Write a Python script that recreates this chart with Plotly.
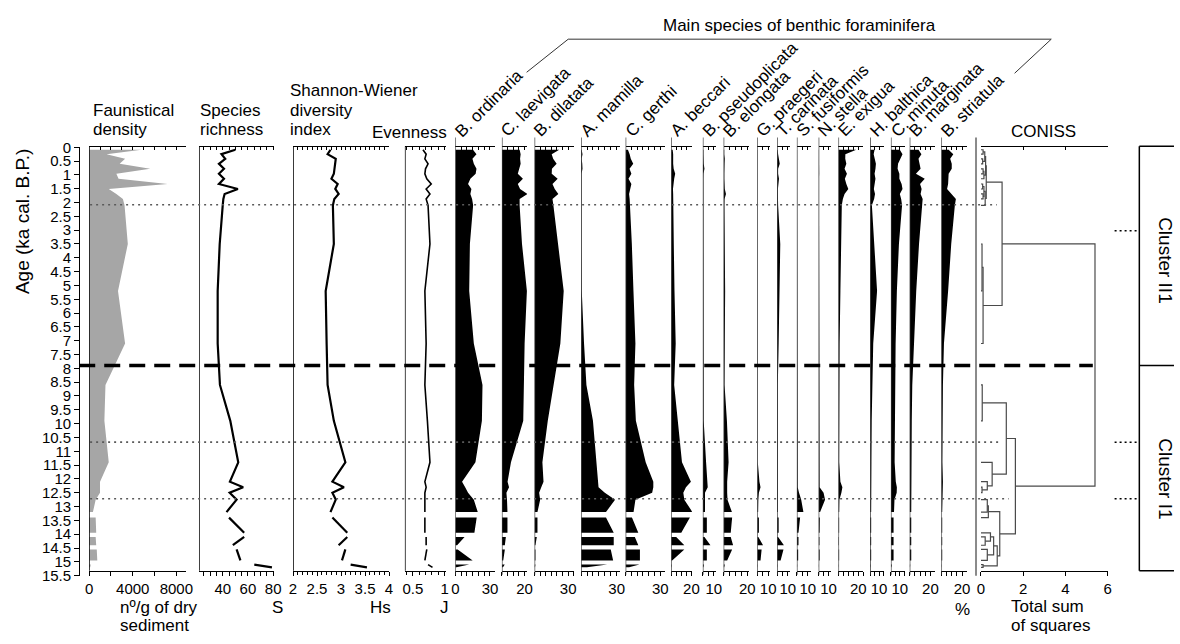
import plotly.graph_objects as go

W, H = 1180, 644
FONT = "Liberation Sans, Arial, sans-serif"

# ------------------------------------------------------------------ data
AGES = [0.09, 0.25, 0.42, 0.6, 0.78, 0.96, 1.14, 1.33, 1.51, 1.69, 1.87, 2.1,
        3.5, 5.2, 7.1, 8.6, 9.9, 11.4, 12.1, 12.3, 12.5, 12.75, 13.2,
        13.4, 13.95, 14.1, 14.4, 14.55, 14.95, 15.1, 15.2]
GAP_AFTER = [13.2, 13.95, 14.4, 14.95]

FAUNA = [4800, 1600, 3300, 2800, 5600, 2500, 2700, 7200, 1800, 2500, 3100, 3250,
         3550, 2650, 3300, 1500, 1400, 1800, 1000, 1000, 1000, 600, 350,
         600, 650, 600, 650, 700, 750, 150, 100]
RICHNESS = [50, 39, 42, 37, 41, 37, 41, 37, 52, 41.5, 40.5, 40,
            37.6, 36, 36, 37.8, 46, 52.3, 45.7, 56.2, 45.5, 51, 43,
            45, 57, 57, 48, 51, 54, 65, 79]
SHANNON = [2.78, 2.72, 2.89, 2.88, 2.87, 2.85, 2.80, 2.93, 2.88, 2.95, 2.86, 2.83,
           2.85, 2.68, 2.70, 2.72, 2.85, 3.09, 2.82, 3.06, 2.82, 2.89, 2.78,
           2.82, 3.13, 3.13, 2.95, 3.09, 3.02, 3.20, 3.54]
EVENNESS = [0.66, 0.71, 0.69, 0.74, 0.70, 0.69, 0.72, 0.79, 0.71, 0.77, 0.71, 0.74,
            0.77, 0.69, 0.71, 0.69, 0.73, 0.77, 0.69, 0.71, 0.69, 0.69, 0.69,
            0.69, 0.69, 0.71, 0.71, 0.72, 0.69, 0.74, 0.81]

B_ORDINARIA = [15.3, 18.3, 14.8, 16, 18.3, 17.6, 13, 11, 13.9, 13, 14.5, 15.4,
               12.6, 12, 16, 23.5, 23, 17.4, 5.8, 8.5, 11, 16, 19.4,
               18.5, 16.5, 8, 1.5, 2, 15, 12, 1]
C_LAEVIGATA = [15.6, 16.5, 16, 16.5, 15, 14, 18.5, 14, 16, 22.5, 15.6, 15.6,
               17.7, 22, 20, 19.4, 18.8, 8, 5, 6.3, 4, 4.5, 4.9,
               4.9, 4.9, 3.5, 2.6, 2.6, 1.2, 2.5, 1]
B_DILATATA = [22, 15.3, 16.6, 19.7, 15.5, 15.3, 20.6, 16, 18, 21.2, 16, 16.8,
              21.2, 26, 23, 16.8, 11.8, 7, 8, 6, 4.1, 5, 2.6,
              2.6, 2.6, 2, 0.8, 0.8, 0.8, 0.8, 0.4]
A_MAMILLA = [0.5, 1.2, 0.5, 1, 1.2, 0.4, 0.5, 0.3, 0.5, 0.3, 0.3, 0.4,
             0.4, 0.6, 2.5, 4.5, 10, 13, 14.5, 14.7, 20, 28.6, 21,
             21, 27.5, 27.5, 27.5, 25, 27, 22, 5]
C_GERTHI = [2, 3.5, 4.5, 6.6, 3.4, 5, 2.5, 5, 4, 3, 3.5, 3.8,
            5.4, 6.8, 8.5, 7.4, 8.9, 17.4, 24, 24, 23, 8.5, 6.9,
            5.5, 11, 8, 11, 12.4, 12.4, 12, 3]
A_BECCARI = [1.5, 2, 1.7, 2, 2.5, 4, 3, 2, 1.8, 2, 2, 2.2,
             2.6, 3.3, 4.5, 3, 6.5, 10.7, 19.5, 14.6, 12, 13, 21,
             18.5, 10, 5, 13, 13, 1, 0.5, 0.3]
B_PSEUDOPLICATA = [0.5, 0.5, 0.6, 0.8, 1.5, 0.6, 0.5, 0.5, 0.5, 0.5, 0.5, 0.5,
                   0.6, 0.6, 0.7, 0.7, 0.8, 3, 4.5, 4.5, 2, 2, 2,
                   3.7, 3.7, 1.5, 7, 3.7, 3.7, 1, 0.5]
B_ELONGATA = [0.5, 0.5, 1, 0.8, 1, 0.6, 0.6, 0.8, 1, 2, 0.8, 0.7,
              1, 1.3, 1, 0.8, 2.8, 4.2, 3, 2.8, 3, 3.3, 7,
              7.2, 6, 6, 8, 7.2, 3, 1, 0.5]
G_PRAEGERI = [0.2, 0.2, 0.2, 0.2, 0.2, 0.2, 0.2, 0.2, 0.2, 0.2, 0.2, 0.2,
              0.2, 0.2, 0.2, 0.2, 0.3, 0.5, 2, 3, 1.5, 1, 0.8,
              1.5, 1.5, 1, 5.3, 4, 3, 0.3, 0.2]
T_CARINATA = [0.5, 1, 1.6, 2.5, 1, 1, 1.8, 1, 0.8, 0.8, 0.8, 1,
              3, 2.5, 1.5, 0.7, 0.5, 0.5, 0.7, 0.8, 0.8, 0.8, 0.8,
              1.5, 1.5, 1, 6.4, 6, 3.3, 0.3, 0.2]
S_FUSIFORMIS = [0.2, 0.2, 0.2, 0.2, 0.2, 0.2, 0.2, 0.2, 0.2, 0.2, 0.2, 0.2,
                0.2, 0.2, 0.2, 0.2, 0.2, 0.3, 0.5, 0.8, 2, 4, 6,
                3, 1.5, 1.5, 1.5, 1.2, 1.2, 0.3, 0.2]
N_STELLA = [0.3, 0.3, 0.5, 0.3, 0.3, 0.5, 0.3, 0.3, 0.5, 0.3, 0.3, 0.3,
            0.3, 0.3, 0.3, 0.3, 0.3, 0.3, 0.5, 1, 5, 6.5, 1.5,
            1.2, 1, 0.8, 0.8, 1, 1, 0.3, 0.2]
E_EXIGUA = [18, 7, 6.9, 8, 6.2, 8.6, 6.5, 8, 10, 6.2, 4.5, 3.4,
            2.5, 2, 1.2, 0.8, 0.6, 0.8, 2, 4, 3, 1, 0.8,
            0.7, 0.7, 0.6, 0.6, 0.7, 0.7, 0.3, 0.2]
H_BALTHICA = [5, 4, 5, 6.5, 6, 5, 6, 5, 4.2, 5.5, 4.5, 2,
              4.5, 7.8, 3.5, 2.2, 1.8, 1.5, 1.3, 1.3, 1.3, 1.3, 1.2,
              1.2, 1.2, 1.2, 1.2, 1.2, 1.2, 0.5, 0.3]
C_MINUTA = [10, 13, 11, 8, 7.5, 9.5, 9.5, 12, 13, 10, 11.5, 12.5,
            9, 6.7, 5.3, 5, 4.5, 4.2, 5.5, 6.7, 6.5, 4, 3.5,
            3, 3, 3, 3, 3, 3, 1, 0.5]
B_MARGINATA = [8.5, 11.3, 8.5, 9.5, 10.5, 6, 14.5, 10, 11.5, 10.5, 12.5, 12,
               9, 6.3, 4, 2.5, 2, 1.6, 1.6, 1.6, 1.6, 1.6, 1.5,
               1.5, 1.5, 1.5, 1.5, 1.5, 1.5, 0.5, 0.3]
B_STRIATULA = [7, 11.5, 8.5, 10, 10, 7, 7, 6.5, 5.5, 10, 14, 13,
               9.5, 6.5, 2.5, 1.5, 1, 1, 1.5, 1.5, 1, 1, 0.8,
               0.8, 0.8, 0.8, 0.8, 0.8, 0.8, 0.3, 0.2]

SPECIES = ["B. ordinaria", "C. laevigata", "B. dilatata", "A. mamilla", "C. gerthi",
           "A. beccari", "B. pseudoplicata", "B. elongata", "G. praegeri", "T. carinata",
           "S. fusiformis", "N. stella", "E. exigua", "H. balthica", "C. minuta",
           "B. marginata", "B. striatula"]
SPECIES_VALUES = [B_ORDINARIA, C_LAEVIGATA, B_DILATATA, A_MAMILLA, C_GERTHI,
                  A_BECCARI, B_PSEUDOPLICATA, B_ELONGATA, G_PRAEGERI, T_CARINATA,
                  S_FUSIFORMIS, N_STELLA, E_EXIGUA, H_BALTHICA, C_MINUTA,
                  B_MARGINATA, B_STRIATULA]
SPECIES_AXIS_MAX = [34.3, 22.2, 35.3, 32.5, 34.3, 20.5, 11.8, 21.7, 11.8, 12,
                    12.7, 12, 25, 15.5, 15.5, 24.8, 24.8]
SPECIES_TICK_LABEL = [30, 20, 30, 30, 30, 20, 10, 20, 10, 10, 10, 10, 20, 10, 10, 20, 20]

AGE_TICKS = [0, 0.5, 1, 1.5, 2, 2.5, 3, 3.5, 4, 4.5, 5, 5.5, 6, 6.5, 7, 7.5, 8,
             8.5, 9, 9.5, 10, 10.5, 11, 11.5, 12, 12.5, 13, 13.5, 14, 14.5, 15, 15.5]
ZONE_AGES = [2.08, 10.67, 12.72]
MAIN_BOUNDARY_AGE = 7.9
CLUSTER_MARK_AGES = [3.02, 10.67, 12.72]

# CONISS merges: (node, child a, child b, total sum of squares); floats = sample ages
CONISS = [
    ("a1", 0.09, 0.25, 0.10), ("a2", 0.42, 0.6, 0.08), ("a3", "a1", "a2", 0.18),
    ("a4", 0.78, 0.96, 0.10), ("a5", "a4", 1.14, 0.14), ("a6", "a3", "a5", 0.22),
    ("b1", 1.33, 1.51, 0.08), ("b2", 1.69, 1.87, 0.10), ("b3", "b1", "b2", 0.14),
    ("b4", "b3", 2.1, 0.20), ("t", "a6", "b4", 0.25),
    ("c1", 3.5, 5.2, 0.05), ("c2", "c1", 7.1, 0.10), ("II", "t", "c2", 1.0),
    ("d1", 8.6, 9.9, 0.06), ("d2", 12.3, 12.5, 0.05), ("d3", 12.1, "d2", 0.30),
    ("d4", 11.4, "d3", 0.53), ("d5", "d1", "d4", 1.2),
    ("e1", 12.75, 13.2, 0.30), ("e2", "e1", 13.4, 0.35),
    ("f1", 14.1, 14.4, 0.20), ("f2", 14.55, 14.95, 0.30), ("f3", 13.95, "f1", 0.45),
    ("f4", "f3", "f2", 0.60), ("f5", 15.1, 15.2, 0.10), ("f6", "f4", "f5", 0.77),
    ("g1", "e2", "f6", 0.89), ("I", "d5", "g1", 1.63), ("root", "II", "I", 5.4),
]

# ------------------------------------------------------------------ layout constants (pixels)
Y0_PX, Y155_PX = 142, 582
BOTTOM_AXIS_PX, TOP_AXIS_PX = 577, 141
SP_LEFT = [456, 503, 536, 583, 628, 674, 706, 727, 761, 781, 801, 823, 843, 875, 896, 915, 947]
SP_RIGHT = [496, 528.5, 576, 622, 668, 695, 719, 753, 774, 794, 815, 835, 868, 889, 910, 941, 973]


def px(xp):
    return xp / W


def py(yp):
    return 1 - yp / H


def segments(vals):
    segs, cur = [], []
    for a, v in zip(AGES, vals):
        cur.append((a, v))
        if a in GAP_AFTER:
            segs.append(cur)
            cur = []
    if cur:
        segs.append(cur)
    return segs


def fill_path(vals):
    xs, ys = [], []
    for seg in segments(vals):
        xs += [0] + [v for _, v in seg] + [0, None]
        ys += [seg[0][0]] + [a for a, _ in seg] + [seg[-1][0], None]
    return xs, ys


def line_path(vals):
    xs, ys = [], []
    for seg in segments(vals):
        xs += [v for _, v in seg] + [None]
        ys += [a for a, _ in seg] + [None]
    return xs, ys


def dendro_path(merges):
    pos, hgt = {}, {}
    xs, ys = [], []

    def get(k):
        if isinstance(k, str):
            return pos[k], hgt[k]
        return k, 0.0

    for name, a, b, h in merges:
        pa, ha = get(a)
        pb, hb = get(b)
        xs += [ha, h, h, hb, None]
        ys += [pa, pa, pb, pb, None]
        pos[name] = (pa + pb) / 2
        hgt[name] = h
    return xs, ys


layout = {}
traces = []
shapes = []
annotations = []
counter = [2]
TICKFONT = dict(family=FONT, size=15, color="black")


def add_panel(left, right, rng, tickvals, ticktext, top_vals, minor_vals=None,
              line_top=TOP_AXIS_PX, line_bot=BOTTOM_AXIS_PX, lcolor="black", lwidth=1.5,
              draw_left=True):
    n = counter[0]
    counter[0] += 2
    xa = dict(domain=[px(left), px(right)], range=rng, anchor="free",
              position=py(BOTTOM_AXIS_PX), showline=True, linecolor="black", linewidth=1.2,
              ticks="outside", ticklen=4, tickwidth=1, tickcolor="black", tickmode="array",
              tickvals=tickvals, ticktext=ticktext, tickfont=TICKFONT,
              showgrid=False, zeroline=False, fixedrange=True)
    if minor_vals:
        xa["minor"] = dict(tickmode="array", tickvals=minor_vals, ticks="outside",
                           ticklen=3, tickcolor="black", showgrid=False)
    layout[f"xaxis{n}"] = xa
    layout[f"xaxis{n + 1}"] = dict(overlaying=f"x{n}", matches=f"x{n}", side="top",
                                   anchor="free", position=py(TOP_AXIS_PX), showline=True,
                                   linecolor="black", linewidth=1.2, ticks="inside",
                                   ticklen=3, tickcolor="black", tickmode="array",
                                   tickvals=top_vals, showticklabels=False,
                                   showgrid=False, zeroline=False, fixedrange=True)
    traces.append(go.Scatter(x=[None], y=[None], xaxis=f"x{n + 1}", yaxis="y",
                             showlegend=False, hoverinfo="skip"))
    if draw_left:
        shapes.append(dict(type="line", xref=f"x{n}", yref="paper", x0=rng[0], x1=rng[0],
                           y0=py(line_bot), y1=py(line_top),
                           line=dict(color=lcolor, width=lwidth)))
    return f"x{n}"


# ---- faunistical density
xa = add_panel(86, 184, [0, 8900], [0, 2000, 4000, 6000, 8000], ["0", "", "4000", "", "8000"],
               [1000 * i for i in range(9)])
fx, fy = fill_path(FAUNA)
traces.append(go.Scatter(x=fx, y=fy, xaxis=xa, yaxis="y", fill="toself", fillcolor="#a6a6a6",
                         line=dict(width=0), mode="lines", showlegend=False, hoverinfo="skip"))

# ---- species richness
xa = add_panel(197, 273, [21.2, 80.8], [25, 30, 35, 40, 45, 50, 55, 60, 65, 70, 75, 80],
               ["", "", "", "40", "", "", "", "60", "", "", "", "80"],
               [25, 30, 35, 40, 45, 50, 55, 60, 65, 70, 75, 80])
lx, ly = line_path(RICHNESS)
traces.append(go.Scatter(x=lx, y=ly, xaxis=xa, yaxis="y", mode="lines",
                         line=dict(color="black", width=2.2), showlegend=False, hoverinfo="skip"))

# ---- Shannon-Wiener
sh_minor = [2.1, 2.2, 2.3, 2.4, 2.6, 2.7, 2.8, 2.9, 3.1, 3.2, 3.3, 3.4, 3.6, 3.7, 3.8, 3.9]
xa = add_panel(292, 389, [2, 4], [2, 2.5, 3, 3.5, 4], ["2", "2.5", "3", "3.5", "4"],
               [2 + 0.1 * i for i in range(21)], minor_vals=sh_minor)
lx, ly = line_path(SHANNON)
traces.append(go.Scatter(x=lx, y=ly, xaxis=xa, yaxis="y", mode="lines",
                         line=dict(color="black", width=2.2), showlegend=False, hoverinfo="skip"))

# ---- Evenness
xa = add_panel(405, 447, [0.375, 1.03], [0.5, 1.0], ["0.5", "1"],
               [0.4, 0.5, 0.6, 0.7, 0.8, 0.9, 1.0], minor_vals=[0.4, 0.6, 0.7, 0.8, 0.9])
lx, ly = line_path(EVENNESS)
traces.append(go.Scatter(x=lx, y=ly, xaxis=xa, yaxis="y", mode="lines",
                         line=dict(color="black", width=1.6), showlegend=False, hoverinfo="skip"))

# ---- species
for i, (name, vals) in enumerate(zip(SPECIES, SPECIES_VALUES)):
    xmax = SPECIES_AXIS_MAX[i]
    tv = list(range(0, int(xmax) + 1, 5))
    tt = [str(v) if (v == SPECIES_TICK_LABEL[i] or (i == 0 and v == 0)) else "" for v in tv]
    xa = add_panel(SP_LEFT[i], SP_RIGHT[i], [0, xmax], tv, tt, tv,
                   line_top=132, line_bot=581, lcolor="#3a3a3a", lwidth=1.3)
    fx, fy = fill_path(vals)
    traces.append(go.Scatter(x=fx, y=fy, xaxis=xa, yaxis="y", fill="toself", fillcolor="black",
                             line=dict(width=0), mode="lines", showlegend=False,
                             hoverinfo="skip"))
    annotations.append(dict(text=name, x=px(SP_LEFT[i] - 7), y=py(138), xref="paper",
                            yref="paper", xanchor="left", yanchor="bottom", textangle=-45,
                            showarrow=False, font=dict(family=FONT, size=17, color="black")))

# ---- CONISS
xa = add_panel(987, 1115, [0, 6], [0, 2, 4, 6], ["0", "2", "4", "6"], [0, 2, 4, 6],
               draw_left=False)
dx, dy = dendro_path(CONISS)
traces.append(go.Scatter(x=dx, y=dy, xaxis=xa, yaxis="y", mode="lines",
                         line=dict(color="#4a4a4a", width=1.2), showlegend=False,
                         hoverinfo="skip"))
shapes.append(dict(type="line", xref="paper", yref="paper", x0=px(982), x1=px(982),
                   y0=py(582), y1=py(132), line=dict(color="#8a8a8a", width=2)))

# ---- main age axis
traces.append(go.Scatter(x=[None], y=[None], xaxis="x", yaxis="y", showlegend=False,
                         hoverinfo="skip"))
layout["xaxis"] = dict(domain=[px(77), px(84)], visible=False, range=[0, 1], fixedrange=True)
layout["yaxis"] = dict(domain=[py(Y155_PX), py(Y0_PX)], range=[15.5, 0], anchor="x",
                       showline=True, linecolor="black", linewidth=1.2, ticks="outside",
                       ticklen=5, tickcolor="black", tickmode="array", tickvals=AGE_TICKS,
                       ticktext=[("%g" % v) for v in AGE_TICKS],
                       tickfont=dict(family=FONT, size=15, color="black"),
                       showgrid=False, zeroline=False, fixedrange=True)

# ---- horizontal zone lines
ends = [1003, 1008, 1015]
for a, e in zip(ZONE_AGES, ends):
    shapes.append(dict(type="line", xref="paper", yref="y", x0=px(87), x1=px(e), y0=a, y1=a,
                       line=dict(color="#5a5a5a", width=1.6, dash="2px,4px")))
shapes.append(dict(type="line", xref="paper", yref="y", x0=px(76), x1=px(1100),
                   y0=MAIN_BOUNDARY_AGE, y1=MAIN_BOUNDARY_AGE,
                   line=dict(color="black", width=3.5, dash="16px,9px")))
for a in CLUSTER_MARK_AGES:
    shapes.append(dict(type="line", xref="paper", yref="y", x0=px(1122), x1=px(1145),
                       y0=a, y1=a, line=dict(color="black", width=1.5, dash="2px,3px")))

# ---- cluster box
box = [((1147, 141), (1182, 141)), ((1147, 141), (1147, 577)), ((1147, 577), (1182, 577))]
for (x0, y0), (x1, y1) in box:
    shapes.append(dict(type="line", xref="paper", yref="paper", x0=px(x0), x1=px(x1),
                       y0=py(y0), y1=py(y1), line=dict(color="black", width=1.5)))
shapes.append(dict(type="line", xref="paper", yref="y", x0=px(1147), x1=px(1182),
                   y0=MAIN_BOUNDARY_AGE, y1=MAIN_BOUNDARY_AGE,
                   line=dict(color="black", width=1.5)))

# ---- header bracket
bracket = [(528, 65), (570, 31), (1058, 31), (1021, 66)]
for (x0, y0), (x1, y1) in zip(bracket[:-1], bracket[1:]):
    shapes.append(dict(type="line", xref="paper", yref="paper", x0=px(x0), x1=px(x1),
                       y0=py(y0), y1=py(y1), line=dict(color="#333333", width=1)))


def text(s, xp, yp, size=17, xanchor="left", yanchor="middle", angle=0):
    annotations.append(dict(text=s, x=px(xp), y=py(yp), xref="paper", yref="paper",
                            xanchor=xanchor, yanchor=yanchor, textangle=angle,
                            showarrow=False, font=dict(family=FONT, size=size, color="black")))


text("Faunistical", 88, 104)
text("density", 88, 124)
text("Species", 196, 104)
text("richness", 196, 124)
text("Shannon-Wiener", 287, 84)
text("diversity", 287, 104)
text("index", 287, 124)
text("Evenness", 450, 127, xanchor="right")
text("Main species of benthic foraminifera", 804, 17, xanchor="center")
text("CONISS", 1050, 126, xanchor="center")
text("nº/g of dry", 115, 615)
text("sediment", 115, 633)
text("S", 276, 615, xanchor="center")
text("Hs", 380, 615, xanchor="center")
text("J", 445, 615, xanchor="center")
text("%", 968, 617, xanchor="center")
text("Total sum", 1015, 614)
text("of squares", 1015, 633)
text("Age (ka cal. B.P.)", 18, 218, size=19, xanchor="center", angle=-90)
text("Cluster II1", 1174, 258, size=19, xanchor="center", angle=90)
text("Cluster I1", 1174, 482, size=19, xanchor="center", angle=90)

fig = go.Figure(data=traces)
fig.update_layout(width=W, height=H, margin=dict(l=0, r=0, t=0, b=0),
                  paper_bgcolor="white", plot_bgcolor="rgba(0,0,0,0)",
                  showlegend=False, shapes=shapes, annotations=annotations,
                  font=dict(family=FONT, color="black"), **layout)
fig.write_html("out.html", config={"displayModeBar": False})
